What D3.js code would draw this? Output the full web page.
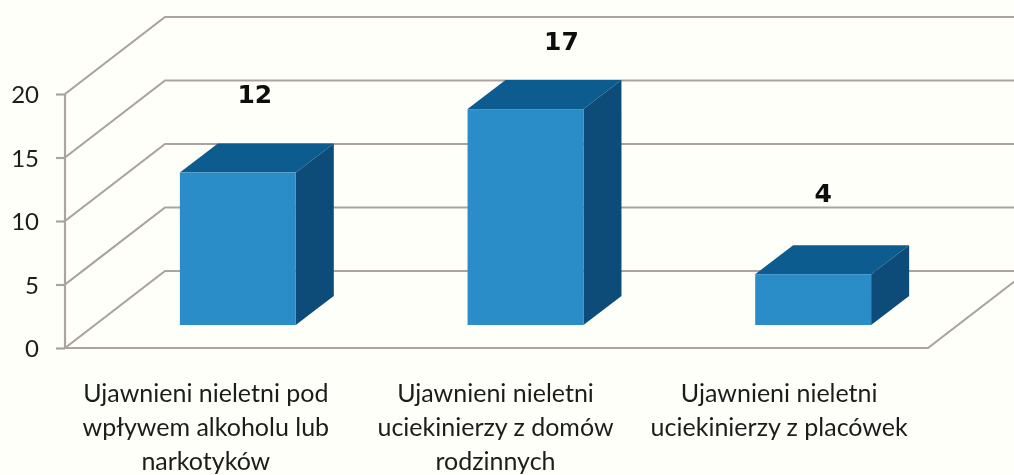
<!DOCTYPE html>
<html><head><meta charset="utf-8">
<script src="https://cdn.jsdelivr.net/npm/d3@7/dist/d3.min.js"></script>
<style>html,body{margin:0;padding:0;background:#fffffa;overflow:hidden}svg{display:block}</style>
</head><body><div id="c"></div>
<script>
const categories = ["A","B","C"];
const values = [12,17,4];
const valueLabels = ["12","17","4"];
const categoryLines = [
  ["Ujawnieni nieletni pod","wpływem alkoholu lub","narkotyków"],
  ["Ujawnieni nieletni","uciekinierzy z domów","rodzinnych"],
  ["Ujawnieni nieletni","uciekinierzy z placówek"]
];
const yTicks = [0,5,10,15,20];

const W=1014,H=475;
const y=d3.scaleLinear().domain([0,20]).range([348,94]);
const x=d3.scaleBand().domain(categories).range([65,928]).paddingInner(0.597).paddingOuter(0.2985);
const wallDx=100,wallDy=-77;
const barDx=38,barDy=-29;
const barShiftX=29,barShiftY=-23;
const labelNudgeX=[46,65,39], labelNudgeY=[-92.5,-82.5,-95];
const catNudgeX=[-3,-1,-5];
const font='Lato,"Open Sans",sans-serif';
const grid="#aba3a0";

const svg=d3.select("#c").append("svg").attr("width",W).attr("height",H);
const defs=svg.append("defs");
defs.append("filter").attr("id","soft").append("feGaussianBlur").attr("stdDeviation",0.55);
const g=svg.append("g").attr("filter","url(#soft)");

g.append("g").selectAll("path").data(yTicks).join("path")
  .attr("d",d=>d3.line()([[65,y(d)],[65+wallDx,y(d)+wallDy],[W+5,y(d)+wallDy]]))
  .attr("fill","none").attr("stroke",grid).attr("stroke-width",2.2);
g.append("path").attr("d",d3.line()([[65,y(0)],[928,y(0)],[928+wallDx,y(0)+wallDy]]))
  .attr("fill","none").attr("stroke",grid).attr("stroke-width",2.2);

const axis=d3.axisLeft(y).tickValues(yTicks).tickSize(9).tickPadding(17).tickFormat(d3.format("d"));
const ag=g.append("g").attr("transform","translate(65,0)").call(axis);
ag.select(".domain").attr("stroke",grid).attr("stroke-width",2.2).attr("d",`M0,${y(20)}V${y(0)}`);
ag.selectAll("line").attr("stroke",grid).attr("stroke-width",2.2);
ag.selectAll("text").attr("font-family",font).attr("font-size",24).attr("fill","#1c1c1c").attr("dy","0.36em");

const bars=g.append("g").selectAll("g").data(categories.map((c,i)=>({c,v:values[i]}))).join("g");
const X0=d=>x(d.c)+barShiftX, X1=d=>X0(d)+x.bandwidth();
const Y0=d=>y(0)+barShiftY, Y1=d=>y(d.v)+barShiftY;
bars.append("path").attr("fill","#105c8f").attr("d",d=>d3.line()([[X0(d),Y1(d)],[X0(d)+barDx,Y1(d)+barDy],[X1(d)+barDx,Y1(d)+barDy],[X1(d),Y1(d)]])+"Z");
bars.append("path").attr("fill","#0e4c78").attr("d",d=>d3.line()([[X1(d),Y1(d)],[X1(d)+barDx,Y1(d)+barDy],[X1(d)+barDx,Y0(d)+barDy],[X1(d),Y0(d)]])+"Z");
bars.append("rect").attr("fill","#2b8dc8").attr("x",X0).attr("y",Y1).attr("width",x.bandwidth()).attr("height",d=>Y0(d)-Y1(d));

g.append("g").selectAll("text").data(categories).join("text")
  .attr("x",(d,i)=>x(d)+x.bandwidth()/2+labelNudgeX[i])
  .attr("y",(d,i)=>y(values[i])+labelNudgeY[i])
  .attr("text-anchor","middle").attr("font-family",'"DejaVu Sans",sans-serif').attr("font-weight","bold").attr("font-size",25).attr("fill","#111")
  .text((d,i)=>valueLabels[i]);

const cg=g.append("g").selectAll("text").data(categories).join("text")
  .attr("text-anchor","middle").attr("font-family",font).attr("font-size",25).attr("fill","#1c1c1c");
cg.selectAll("tspan").data((d,i)=>categoryLines[i].map(t=>({t,c:d,i}))).join("tspan")
  .attr("x",d=>x(d.c)+x.bandwidth()/2+catNudgeX[d.i]).attr("y",(d,j)=>402+j*34).text(d=>d.t);
</script></body></html>
